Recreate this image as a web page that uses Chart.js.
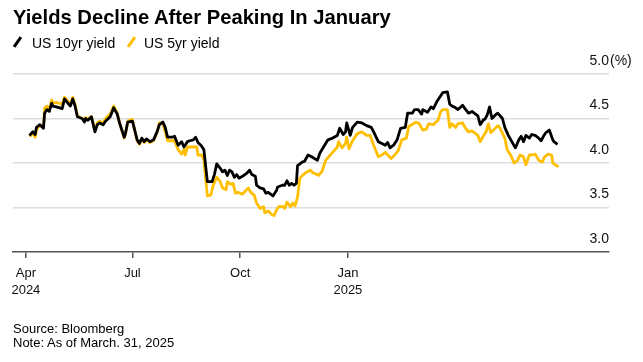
<!DOCTYPE html>
<html>
<head>
<meta charset="utf-8">
<script src="https://cdn.jsdelivr.net/npm/chart.js@4/dist/chart.umd.min.js"></script>
<style>
    body { margin: 0; background: #fff; font-family: "Liberation Sans", Arial, sans-serif; color: #000; }
    #wrap { position: relative; width: 643px; height: 362px; overflow: hidden; }
    #output_chart { position: absolute; left: 0; top: 0; }
    .title { position: absolute; left: 13px; top: 5px; font-size: 20.2px; line-height: 24px; font-weight: bold; white-space: nowrap; }
    .legend_text { position: absolute; top: 35px; font-size: 14px; line-height: 16px; white-space: nowrap; }
    .legend_mark { position: absolute; top: 36px; width: 3px; height: 12px; transform: rotate(35deg); }
    .footer { position: absolute; left: 13px; top: 322px; font-size: 13px; line-height: 14px; white-space: nowrap; }
</style>
</head>
<body>
<div id="wrap">
    <canvas id="output_chart" width="643" height="362"></canvas>
    <div class="title">Yields Decline After Peaking In January</div>
    <div class="legend_mark" style="left: 16px; background: #000;"></div>
    <div class="legend_text" style="left: 32px;">US 10yr yield</div>
    <div class="legend_mark" style="left: 130px; background: #ffbf00;"></div>
    <div class="legend_text" style="left: 144px;">US 5yr yield</div>
    <div class="footer">Source: Bloomberg<br>Note: As of March. 31, 2025</div>
</div>
<script>
// days counted from Apr 1, 2024
let days_10yr = [
    3, 6, 8, 9, 12, 15, 16, 18, 20, 22,
    23, 26, 31, 33, 36, 38, 40, 42, 44, 48,
    50, 51, 53, 56, 59, 61, 63, 66, 68, 72,
    75, 78, 80, 84, 85, 87, 91, 92, 95, 97,
    99, 101, 103, 106, 109, 112, 114, 117, 119, 121,
    125, 127, 130, 133, 135, 138, 140, 143, 145, 147,
    150, 152, 155, 159, 161, 163, 166, 168, 170, 172,
    174, 176, 178, 180, 182, 185, 189, 191, 193, 196,
    197, 200, 203, 205, 207, 209, 211, 214, 215, 219,
    221, 223, 225, 227, 229, 231, 232, 236, 238, 241,
    244, 249, 251, 256, 258, 262, 266, 268, 271, 273,
    274, 277, 279, 283, 287, 291, 295, 297, 301, 304,
    307, 309, 311, 314, 317, 320, 324, 326, 330, 332,
    335, 338, 339, 343, 346, 348, 351, 354, 356, 360,
    362, 364, 367, 369, 373, 375, 378, 381, 384, 386,
    388, 391, 392, 394, 396, 398, 401, 403, 407, 409,
    412, 415, 418, 421, 423, 425, 427, 430, 432, 435,
    438, 440, 442, 444, 447, 450, 451, 454
]
let yield_10yr = [
    4.31, 4.35, 4.32, 4.40, 4.43, 4.39, 4.56, 4.60, 4.58, 4.67,
    4.64, 4.63, 4.61, 4.72, 4.67, 4.64, 4.72, 4.64, 4.52, 4.50,
    4.46, 4.50, 4.48, 4.52, 4.35, 4.43, 4.45, 4.43, 4.47, 4.52,
    4.62, 4.55, 4.45, 4.29, 4.33, 4.46, 4.47, 4.42, 4.26, 4.22,
    4.28, 4.24, 4.27, 4.24, 4.26, 4.35, 4.43, 4.46, 4.40, 4.29,
    4.29, 4.30, 4.20, 4.24, 4.18, 4.24, 4.25, 4.26, 4.29, 4.23,
    4.19, 4.15, 3.79, 3.79, 3.87, 3.99, 3.94, 3.90, 3.92, 3.86,
    3.92, 3.90, 3.84, 3.87, 3.83, 3.85, 3.89, 3.92, 3.87, 3.85,
    3.75, 3.72, 3.71, 3.66, 3.67, 3.65, 3.63, 3.69, 3.73, 3.75,
    3.75, 3.80, 3.75, 3.77, 3.75, 3.77, 3.97, 4.01, 4.02, 4.09,
    4.07, 4.03, 4.11, 4.22, 4.26, 4.28, 4.31, 4.39, 4.32, 4.35,
    4.45, 4.31, 4.40, 4.46, 4.45, 4.42, 4.40, 4.35, 4.24, 4.22,
    4.20, 4.23, 4.17, 4.20, 4.26, 4.39, 4.40, 4.56, 4.56, 4.60,
    4.60, 4.55, 4.60, 4.57, 4.63, 4.61, 4.69, 4.75, 4.79, 4.80,
    4.66, 4.64, 4.62, 4.60, 4.65, 4.61, 4.56, 4.58, 4.55, 4.53,
    4.43, 4.49, 4.49, 4.54, 4.63, 4.50, 4.54, 4.56, 4.50, 4.40,
    4.31, 4.24, 4.17, 4.26, 4.30, 4.24, 4.31, 4.28, 4.32, 4.31,
    4.28, 4.25, 4.30, 4.34, 4.37, 4.26, 4.24, 4.21
]
let days_5yr = [
    3, 6, 8, 9, 12, 15, 16, 18, 20, 22,
    23, 26, 31, 33, 36, 38, 40, 42, 44, 48,
    50, 51, 53, 56, 59, 61, 63, 66, 68, 72,
    75, 78, 80, 84, 85, 87, 91, 92, 95, 97,
    99, 101, 103, 106, 109, 112, 114, 117, 119, 121,
    125, 127, 130, 133, 135, 136, 138, 143, 146, 147,
    150, 152, 155, 158, 160, 163, 166, 168, 171, 172,
    175, 177, 179, 181, 185, 187, 190, 192, 195, 197,
    200, 203, 204, 207, 210, 212, 214, 216, 220, 221,
    223, 226, 228, 230, 232, 234, 237, 240, 243, 245,
    249, 250, 253, 256, 260, 262, 266, 267, 270, 273,
    274, 276, 279, 283, 287, 291, 294, 297, 301, 304,
    307, 309, 312, 315, 318, 321, 325, 327, 331, 333,
    336, 339, 342, 344, 348, 350, 352, 354, 356, 360,
    362, 364, 367, 369, 373, 375, 378, 381, 384, 386,
    388, 391, 393, 395, 397, 400, 403, 405, 409, 411,
    414, 417, 420, 422, 425, 427, 430, 432, 435, 438,
    441, 443, 446, 449, 450, 453, 455
]
let yield_5yr = [
    4.30, 4.33, 4.29, 4.38, 4.42, 4.40, 4.62, 4.64, 4.60, 4.71,
    4.67, 4.68, 4.66, 4.74, 4.69, 4.66, 4.74, 4.66, 4.53, 4.50,
    4.47, 4.51, 4.50, 4.52, 4.36, 4.45, 4.47, 4.45, 4.50, 4.55,
    4.64, 4.56, 4.45, 4.28, 4.32, 4.47, 4.49, 4.42, 4.25, 4.21,
    4.27, 4.23, 4.26, 4.23, 4.25, 4.34, 4.45, 4.44, 4.35, 4.25,
    4.25, 4.25, 4.15, 4.10, 4.15, 4.09, 4.18, 4.18, 4.18, 4.09,
    4.09, 4.04, 3.63, 3.64, 3.75, 3.84, 3.79, 3.72, 3.70, 3.79,
    3.76, 3.77, 3.66, 3.67, 3.65, 3.68, 3.72, 3.67, 3.64, 3.55,
    3.49, 3.51, 3.44, 3.46, 3.42, 3.41, 3.47, 3.51, 3.51, 3.49,
    3.56, 3.51, 3.55, 3.52, 3.62, 3.83, 3.87, 3.90, 3.92, 3.89,
    3.87, 3.86, 3.91, 4.03, 4.09, 4.12, 4.18, 4.24, 4.17, 4.22,
    4.29, 4.16, 4.25, 4.33, 4.35, 4.31, 4.31, 4.20, 4.07, 4.09,
    4.12, 4.09, 4.05, 4.09, 4.14, 4.26, 4.28, 4.41, 4.44, 4.46,
    4.44, 4.37, 4.38, 4.44, 4.43, 4.46, 4.48, 4.57, 4.60, 4.60,
    4.40, 4.44, 4.40, 4.44, 4.45, 4.40, 4.35, 4.36, 4.33, 4.31,
    4.24, 4.31, 4.35, 4.44, 4.34, 4.38, 4.42, 4.39, 4.28, 4.15,
    4.09, 4.00, 4.03, 4.09, 4.07, 3.98, 4.09, 4.09, 4.10, 4.03,
    4.01, 4.07, 4.10, 4.09, 4.00, 3.97, 3.96
]
let tick_days = [0, 91, 183, 275]
let tick_labels = [["Apr", "2024"], ["Jul"], ["Oct"], ["Jan", "2025"]]

function toPoints(days, values) {
    let points = []
    for (let i = 0; i < days.length; i++) {
        points.push({x: days[i], y: values[i]})
    }
    return points
}

// "(%)" sits after the top tick label
let percentLabel = {
    id: "percentLabel",
    afterDraw(chart) {
        let ctx = chart.ctx
        let y_scale = chart.scales.y
        ctx.save()
        ctx.font = "14px 'Liberation Sans', Arial, sans-serif"
        ctx.fillStyle = "#111"
        ctx.textAlign = "left"
        ctx.textBaseline = "middle"
        ctx.fillText("(%)", chart.chartArea.right + 1, y_scale.getPixelForValue(5) - 13)
        ctx.restore()
    }
}

let chart = new Chart(document.getElementById("output_chart").getContext("2d"), {
    type: "line",
    data: {
        datasets: [{
            label: "US 10yr yield",
            data: toPoints(days_10yr, yield_10yr),
            borderColor: "#000000",
            borderWidth: 2.8,
            pointRadius: 0,
            borderJoinStyle: "round",
            tension: 0
        }, {
            label: "US 5yr yield",
            data: toPoints(days_5yr, yield_5yr),
            borderColor: "#ffbf00",
            borderWidth: 2.8,
            pointRadius: 0,
            borderJoinStyle: "round",
            tension: 0
        }]
    },
    options: {
        responsive: false,
        animation: false,
        devicePixelRatio: 1,
        layout: {
            padding: {top: 74, left: 13, right: 34, bottom: 65}
        },
        plugins: {
            legend: {display: false},
            title: {display: false},
            tooltip: {enabled: false}
        },
        scales: {
            x: {
                type: "linear",
                min: -11,
                max: 498,
                afterBuildTicks: function(scale) {
                    scale.ticks = tick_days.map(d => ({value: d}))
                },
                afterFit: function(scale) {
                    scale.height = 45
                },
                ticks: {
                    autoSkip: false,
                    maxRotation: 0,
                    padding: 7,
                    color: "#111",
                    font: {family: "'Liberation Sans', Arial, sans-serif", size: 13, lineHeight: 1.3},
                    callback: function(value) {
                        let i = tick_days.indexOf(value)
                        return i >= 0 ? tick_labels[i] : ""
                    }
                },
                grid: {
                    drawOnChartArea: false,
                    drawTicks: true,
                    tickLength: 6,
                    tickColor: "#555",
                    lineWidth: 1.5
                },
                border: {display: true, color: "#555", width: 1.5}
            },
            y: {
                position: "right",
                min: 3,
                max: 5,
                afterFit: function(scale) {
                    scale.width = 0
                },
                ticks: {
                    stepSize: 0.5,
                    mirror: true,
                    padding: 0,
                    labelOffset: -13,
                    color: "#111",
                    font: {family: "'Liberation Sans', Arial, sans-serif", size: 14},
                    callback: function(value) {
                        return value.toFixed(1)
                    }
                },
                grid: {
                    drawTicks: false,
                    lineWidth: 1.5,
                    color: ctx => (ctx.tick && ctx.tick.value === 3) ? "rgba(0,0,0,0)" : "#dddddd"
                },
                border: {display: false}
            }
        }
    },
    plugins: [percentLabel]
})
</script>
</body>
</html>
